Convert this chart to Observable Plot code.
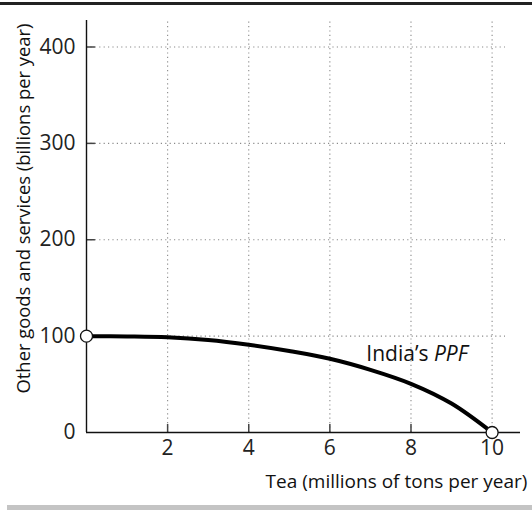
<!DOCTYPE html>
<html><head><meta charset="utf-8">
<script src="https://cdn.jsdelivr.net/npm/d3@7"></script>
<script src="https://cdn.jsdelivr.net/npm/@observablehq/plot@0.6"></script>
<style>
body{margin:0;background:#fff;}
#wrap{position:relative;width:532px;height:510px;overflow:hidden;font-family:"Open Sans",sans-serif;}
#topline{position:absolute;left:0;top:2px;width:532px;height:3px;background:#222;}
#bottombar{position:absolute;left:7px;top:505px;width:525px;height:5px;background:#c4c4c4;}
#chart{position:absolute;left:0;top:0;}
</style></head><body>
<div id="wrap"><div id="topline"></div><div id="chart"></div><div id="bottombar"></div></div>
<script>
// Data
const teaX   = [0, 1, 2, 3, 4, 5, 6, 7, 8, 9, 10];
const otherY = [100, 99.7, 98.8, 96, 91, 84.5, 76.5, 65, 50.5, 30, 0];
const endX = [0, 10];
const endY = [100, 0];
const xTicks = [2, 4, 6, 8, 10];
const yTicks = [0, 100, 200, 300, 400];
const xTitle = "Tea (millions of tons per year)";
const yTitle = "Other goods and services (billions per year)";
const curveLabel = "India’s PPF";

const ppf = teaX.map((x, i) => ({x, y: otherY[i]}));
const ends = endX.map((x, i) => ({x, y: endY[i]}));
const xMax = 10.7, yMax = 427.5;
const font = "Open Sans, sans-serif";

const chart = Plot.plot({
  width: 532, height: 510,
  marginLeft: 86, marginRight: 12, marginTop: 20, marginBottom: 78,
  style: {fontFamily: font, fontSize: "21px", color: "#222", background: "transparent"},
  x: {domain: [0, xMax]},
  y: {domain: [0, yMax]},
  marks: [
    // dotted grid
    Plot.ruleX(xTicks, {y1: 0, y2: yMax, stroke: "#8a8a8a", strokeWidth: 1.1, strokeDasharray: "1.2,3.2"}),
    Plot.ruleY(yTicks.filter(d => d > 0), {x1: 0, x2: 10.33, stroke: "#8a8a8a", strokeWidth: 1.1, strokeDasharray: "1.2,3.2"}),
    // inward ticks
    Plot.ruleY(yTicks.filter(d => d > 0), {x1: 0, x2: 0.22, stroke: "#444", strokeWidth: 1.5}),
    Plot.ruleX(xTicks.filter(d => d < 10), {y1: 0, y2: 8.3, stroke: "#444", strokeWidth: 1.5}),
    // axis lines
    Plot.ruleX([0], {y1: 0, y2: yMax, stroke: "#111", strokeWidth: 1.4}),
    Plot.ruleY([0], {x1: 0, x2: xMax, stroke: "#111", strokeWidth: 1.4}),
    // tick labels
    Plot.axisY({ticks: yTicks, tickSize: 0, tickPadding: 11, label: null, fontSize: 21}),
    Plot.axisX({ticks: xTicks, tickSize: 0, tickPadding: 8, label: null, fontSize: 21}),
    // PPF curve
    Plot.line(ppf, {x: "x", y: "y", curve: "catmull-rom", stroke: "#000", strokeWidth: 4}),
    Plot.dot(ends, {x: "x", y: "y", r: 6, fill: "#fff", stroke: "#111", strokeWidth: 1.3}),
    // labels
    Plot.text([curveLabel], {x: 6.9, y: 81, text: d => d, textAnchor: "start", lineAnchor: "middle", fontSize: 21, fill: "#111", className: "ppf-label"}),
    Plot.text([xTitle], {x: 10.87, y: -50.8, text: d => d, textAnchor: "end", lineAnchor: "middle", fontSize: 19, fill: "#111"}),
    Plot.text([yTitle], {x: -1.53, y: 424.4, text: d => d, rotate: -90, textAnchor: "end", lineAnchor: "middle", fontSize: 18.4, fill: "#111"})
  ]
});
document.getElementById("chart").appendChild(chart);
d3.select(chart).selectAll(".ppf-label text").html("India’s <tspan font-style=\"italic\">PPF</tspan>");
</script>
</body></html>
